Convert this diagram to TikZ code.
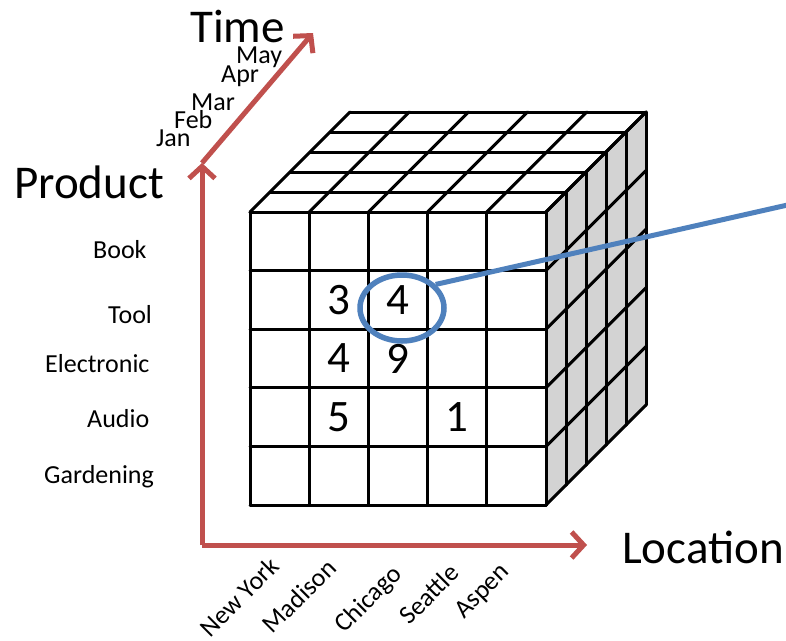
\documentclass[tikz,border=0pt]{standalone}
\usepackage{fontspec}
\setmainfont{Carlito}
\usetikzlibrary{shapes.geometric,arrows.meta}
\definecolor{axisred}{HTML}{C0504D}
\definecolor{callblue}{HTML}{4F81BD}
\definecolor{sidegray}{HTML}{D3D3D3}

\tikzset{
  gridline/.style={line width=3pt, black, line cap=round, line join=round},
  axisline/.style={line width=5pt, axisred, -{Straight Barb[length=12pt,width=26pt]}},
  calloutline/.style={line width=5pt, callblue},
  biglabel/.style={font=\fontsize{47}{50}\selectfont, inner sep=0pt},
  smalllabel/.style={font=\fontsize{26}{30}\selectfont, inner sep=0pt},
  digit/.style={font=\fontsize{45}{48}\selectfont, inner sep=0pt}
}

\begin{document}
\begin{tikzpicture}[x=1pt, y=-1pt]
\useasboundingbox[fill=white] (0,0) rectangle (786,640);

% cube: right face, top face, front face
\fill[sidegray] (546,212) -- ++(100,-100) -- ++(0,293) -- ++(-100,100) -- cycle;
\foreach \i in {0,...,5} {
  \draw[gridline] ({250+\i*59.2},212) -- ({250+\i*59.2},505);
  \draw[gridline] (250,{212+\i*58.6}) -- (546,{212+\i*58.6});
  \draw[gridline] ({250+\i*59.2},212) -- ++(100,-100);
  \draw[gridline] ({250+\i*20},{212-\i*20}) -- ++(296,0);
  \draw[gridline] ({546+\i*20},{212-\i*20}) -- ++(0,293);
  \draw[gridline] (546,{212+\i*58.6}) -- ++(100,-100);
}

% values
\foreach \c/\r/\v in {2/2/3, 3/2/4, 2/3/4, 3/3/9, 2/4/5, 4/4/1}
  \node[digit] (d\c\r) at ({250+(\c-0.5)*59.2},{212+(\r-0.5)*58.6}) {\v};

% axes
\coordinate (origin) at (202,545);
\coordinate (ptop) at (202,163);
\coordinate (ttop) at (313,33);
\coordinate (lend) at (587,545);
\draw[axisline] (origin) -- (ptop);
\draw[axisline] (origin) -- (lend);
\draw[axisline] (ptop) -- (ttop);

\node[biglabel, anchor=base west] (time) at (190,42) {Time};
\node[biglabel, anchor=base west] (product) at (14,198) {Product};
\node[biglabel, anchor=base west] (location) at (622,563) {Location};

\foreach \m/\lx/\by in {Jan/156/146, Feb/174/128, Mar/191/110, Apr/221/82, May/236/63}
  \node[smalllabel, anchor=base west] (m\m) at (\lx,\by) {\m};

\foreach \p/\lx/\by [count=\n] in {Book/93/258, Tool/108/323, Electronic/45/372, Audio/87/427, Gardening/44/483}
  \node[smalllabel, anchor=base west] (p\n) at (\lx,\by) {\p};

\foreach \name/\cx/\cy [count=\n] in {New York/239/597, Madison/299/596, Chicago/369/600, Seattle/429/594, Aspen/483/592}
  \node[smalllabel, rotate=45] (loc\n) at (\cx,\cy) {\name};

% highlighted cell
\node[ellipse, draw=callblue, line width=5.5pt, minimum width=84pt, minimum height=66pt, inner sep=0pt] (hl) at (402,308) {};
\coordinate (callout) at (792,204);
\draw[calloutline] (hl.35) -- (callout);
\end{tikzpicture}
\end{document}
